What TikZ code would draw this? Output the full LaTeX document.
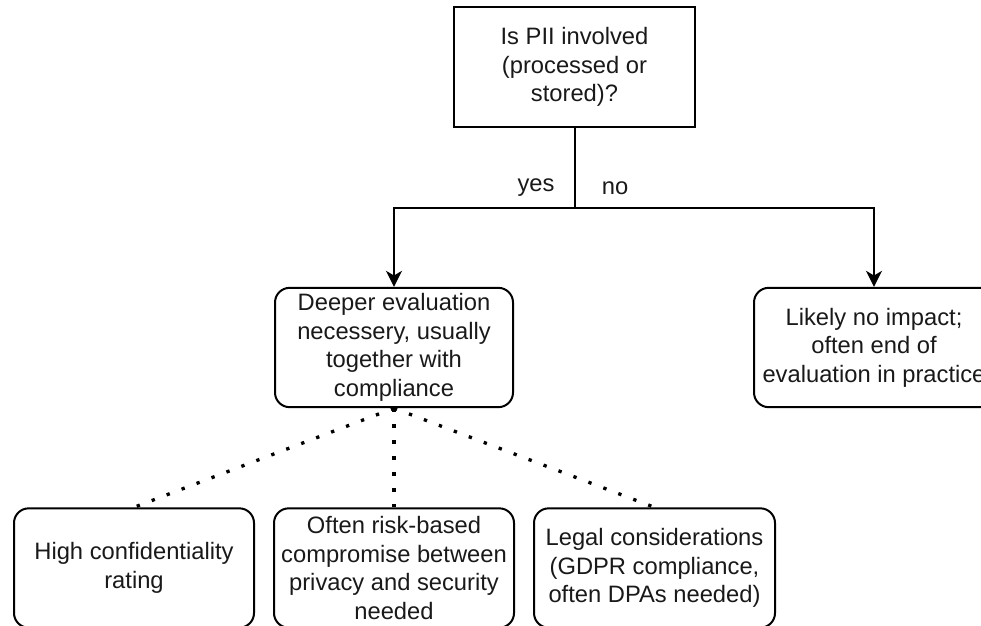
\documentclass[tikz,border=0pt]{standalone}
\usepackage{fontspec}
\setmainfont{Liberation Sans}
\usetikzlibrary{arrows.meta}

\begin{document}
\begin{tikzpicture}[x=0.75pt, y=-0.75pt,
  txt/.style={font=\fontsize{17.8}{21.4}\selectfont, text=black!90, align=center},
  box/.style={txt, draw=black, line width=1.5pt, inner sep=0pt,
    minimum width=180pt, minimum height=89.5pt},
  roundbox/.style={box, rounded corners=11pt},
  flow/.style={draw=black, line width=1.5pt},
  flowarrow/.style={flow, -{Stealth[length=12pt, width=12pt, inset=3.5pt]}},
  dotline/.style={draw=black, line width=2.5pt, dash pattern=on 2.5pt off 9.5pt}
]
\useasboundingbox (0,0) rectangle (981,625);
\clip (0,0) rectangle (981,625);

% decision at the top
\node[box, minimum width=180.75pt] (q) at (574.5,67)
  {Is PII involved\\(processed or\\stored)?};

% outcomes
\node[roundbox, minimum width=178.5pt] (deep) at (394,347.5)
  {Deeper evaluation\\necessery, usually\\together with\\compliance};
\node[roundbox] (none) at (874,347.5)
  {Likely no impact;\\often end of\\evaluation in practice};

% aspects of the deeper evaluation
\node[roundbox] (conf) at (134,568)
  {High confidentiality\\rating};
\node[roundbox] (risk) at (394,568)
  {Often risk-based\\compromise between\\privacy and security\\needed};
\node[roundbox, minimum width=180.75pt] (legal) at (654.5,568)
  {Legal considerations\\(GDPR compliance,\\often DPAs needed)};

% yes/no branching
\coordinate (split) at (574.5,208);
\draw[flow] (q.south) -- (split);
\draw[flowarrow] (split) -| (deep.north);
\draw[flowarrow] (split) -| (none.north);
\node[txt] (yes) at (536,188) {yes};
\node[txt] (no) at (615,188) {no};

% dotted links to the aspects
\draw[dotline] (deep.south) -- (conf.north);
\draw[dotline] (deep.south) -- (risk.north);
\draw[dotline] (deep.south) -- (legal.north);
\end{tikzpicture}
\end{document}
